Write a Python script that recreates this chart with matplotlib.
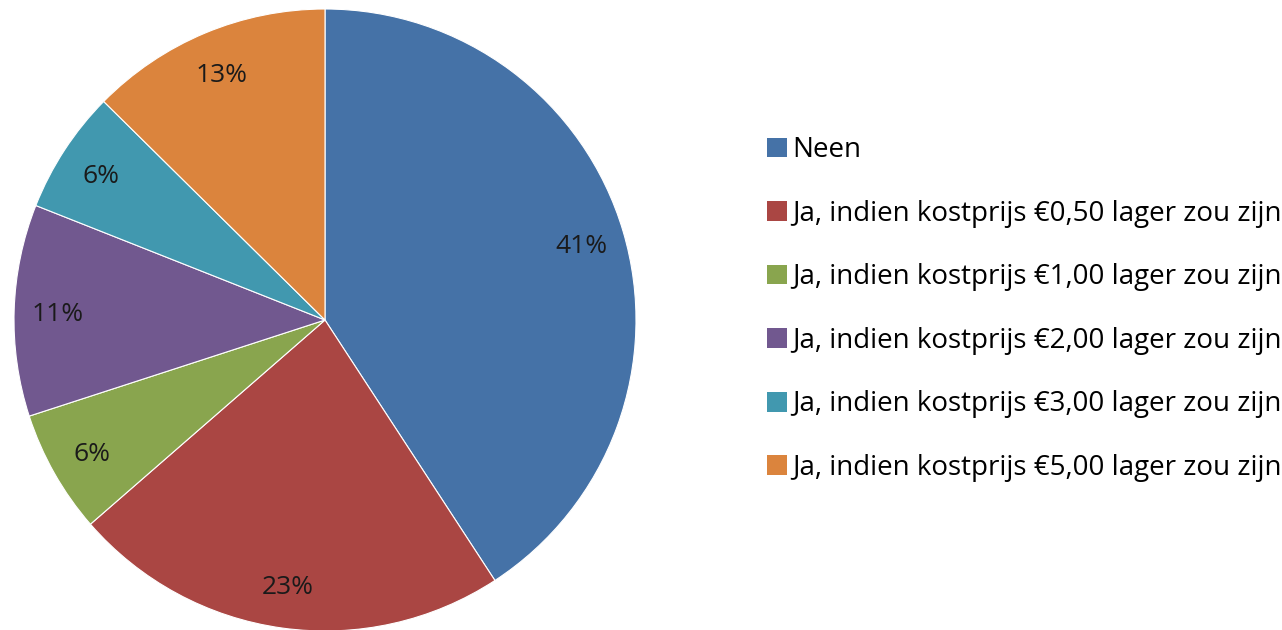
import matplotlib
matplotlib.use("Agg")
import matplotlib.pyplot as plt
from matplotlib.patches import Patch

plt.rcParams['font.family'] = ['Open Sans', 'DejaVu Sans']

categories = [
    "Neen",
    "Ja, indien kostprijs €0,50 lager zou zijn",
    "Ja, indien kostprijs €1,00 lager zou zijn",
    "Ja, indien kostprijs €2,00 lager zou zijn",
    "Ja, indien kostprijs €3,00 lager zou zijn",
    "Ja, indien kostprijs €5,00 lager zou zijn",
]
values = [40.8, 22.8, 6.4, 11.0, 6.4, 12.6]
colors = ["#4572A7", "#AA4643", "#89A54E", "#71588F", "#4198AF", "#DB843D"]

W, H = 1282, 630
fig = plt.figure(figsize=(W / 100, H / 100), dpi=100)
cx, cy, r = 325, 320, 311
ax = fig.add_axes([(cx - r) / W, (H - cy - r) / H, 2 * r / W, 2 * r / H])

wedges, texts, autotexts = ax.pie(
    values, colors=colors, startangle=90, counterclock=False,
    autopct=lambda p: f"{p:.0f}%", pctdistance=0.86,
    wedgeprops=dict(linewidth=0.8, edgecolor="white"),
    textprops=dict(fontsize=19, color="#1a1a1a"),
)
for t in autotexts:
    x, y = t.get_position()
    t.set_position((x, y - 0.008))
ax.set_aspect("equal")
ax.set_xlim(-1, 1)
ax.set_ylim(-1, 1)
ax.axis("off")

handles = [Patch(facecolor=c, edgecolor="none") for c in colors]
leg = fig.legend(
    handles, categories, loc="upper left",
    bbox_to_anchor=(756 / W, 1 - 125 / H), frameon=False,
    fontsize=20, handlelength=0.72, handleheight=0.72,
    handletextpad=0.18, labelspacing=1.28, borderaxespad=0,
)

fig.savefig("out.png", dpi=100)
